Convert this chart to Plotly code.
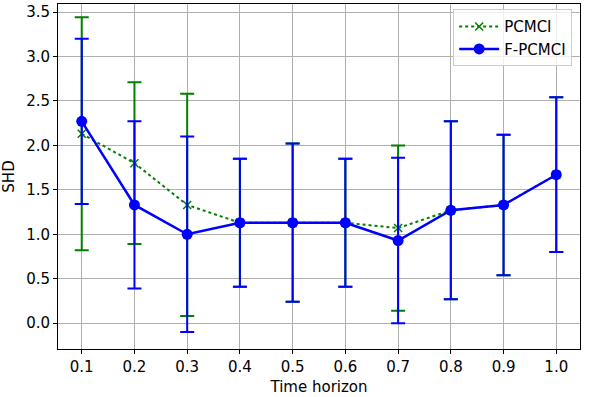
import plotly.graph_objects as go

horizon = [0.1, 0.2, 0.3, 0.4, 0.5, 0.6, 0.7, 0.8, 0.9, 1.0]

pcmci_mean = [2.13, 1.80, 1.33, 1.13, 1.13, 1.13, 1.07, 1.27, 1.33, 1.67]
pcmci_err = [1.31, 0.91, 1.25, 0.72, 0.89, 0.72, 0.93, 1.00, 0.79, 0.87]

fpcmci_mean = [2.27, 1.33, 1.00, 1.13, 1.13, 1.13, 0.93, 1.27, 1.33, 1.67]
fpcmci_err = [0.93, 0.94, 1.10, 0.72, 0.89, 0.72, 0.93, 1.00, 0.79, 0.87]

y_ticks = [0.0, 0.5, 1.0, 1.5, 2.0, 2.5, 3.0, 3.5]

fig = go.Figure()

fig.add_trace(go.Scatter(
    x=horizon, y=pcmci_mean, name="PCMCI", mode="lines+markers",
    line=dict(color="green", width=2, dash="dot"),
    marker=dict(symbol="x-thin", size=8, line=dict(color="green", width=1.5), color="green"),
    error_y=dict(type="data", array=pcmci_err, color="green", thickness=2, width=7),
))

fig.add_trace(go.Scatter(
    x=horizon, y=fpcmci_mean, name="F-PCMCI", mode="lines+markers",
    line=dict(color="blue", width=2.5),
    marker=dict(symbol="circle", size=11, color="blue"),
    error_y=dict(type="data", array=fpcmci_err, color="blue", thickness=2, width=7),
))

axis_common = dict(
    showgrid=True, gridcolor="#b0b0b0", gridwidth=1,
    showline=True, linecolor="black", linewidth=1, mirror=True,
    ticks="outside", ticklen=4, tickcolor="black",
    zeroline=False, tickfont=dict(size=15, color="black"),
    automargin=False,
)

fig.update_xaxes(
    range=[0.055, 1.045], tickvals=horizon, tickformat=".1f",
    title=dict(text="Time horizon", font=dict(size=15, color="black"), standoff=6),
    **axis_common,
)
fig.update_yaxes(
    range=[-0.29, 3.59], tickvals=y_ticks, tickformat=".1f",
    title=dict(text="SHD", font=dict(size=15, color="black"), standoff=8),
    **axis_common,
)

fig.update_layout(
    width=603, height=397,
    margin=dict(l=58, r=23, t=4, b=48, autoexpand=False),
    plot_bgcolor="white", paper_bgcolor="white",
    font=dict(family="DejaVu Sans", size=15, color="black"),
    legend=dict(
        x=0.985, y=0.985, xanchor="right", yanchor="top",
        bgcolor="rgba(255,255,255,0.8)", bordercolor="#cccccc", borderwidth=1,
        font=dict(size=15), itemwidth=40,
    ),
)

# drop the browser's default 8px body margin so the figure sits at the page corner
fig.write_html("out.html", config={"displayModeBar": False},
               post_script="document.body.style.margin='0';")
